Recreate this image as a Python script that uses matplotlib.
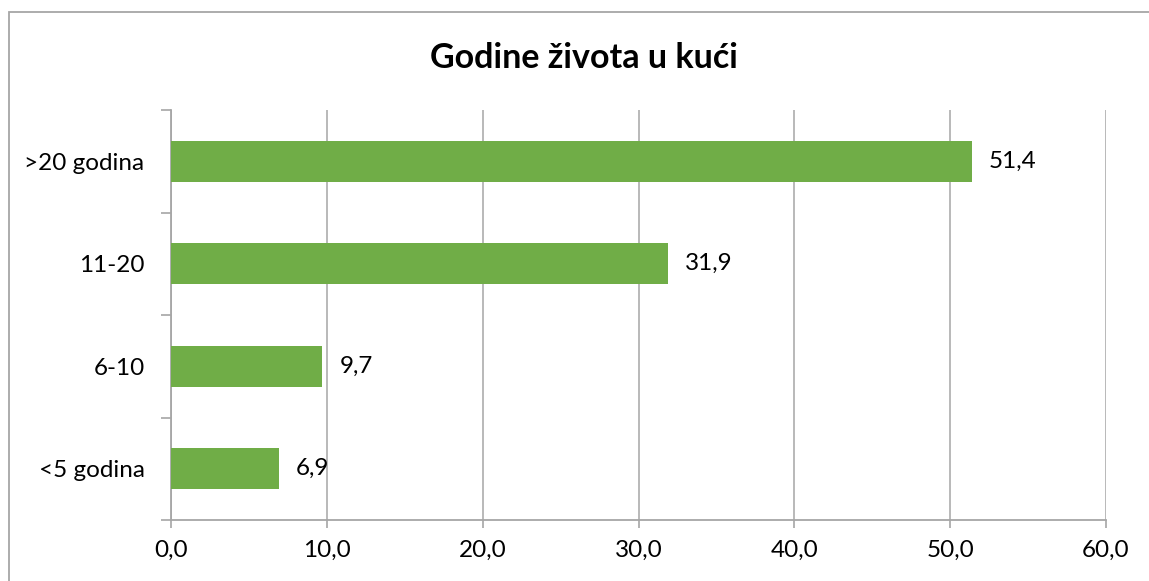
import matplotlib
matplotlib.use("Agg")
import matplotlib.pyplot as plt
from matplotlib.patches import Rectangle

categories = ["<5 godina", "6-10", "11-20", ">20 godina"]
values = [6.9, 9.7, 31.9, 51.4]
xticks = [0, 10, 20, 30, 40, 50, 60]
xtick_labels = ["0,0", "10,0", "20,0", "30,0", "40,0", "50,0", "60,0"]
title = "Godine života u kući"

plt.rcParams['font.family'] = ['Lato', 'DejaVu Sans']

W, H = 1149, 581
fig = plt.figure(figsize=(W / 100, H / 100), dpi=100)
fig.patch.set_facecolor("white")

# outer chart border
fig.patches.append(Rectangle((8.5 / W, -0.1), 1.2, (H - 12.5) / H + 0.1,
                             transform=fig.transFigure, fill=False,
                             edgecolor="#a6a6a6", linewidth=1.3))

ax = fig.add_axes([171 / W, 1 - 520 / H, (1106 - 171) / W, (520 - 110) / H])
y = range(len(categories))
ax.barh(y, values, height=0.4, color="#70AD47", zorder=3)
ax.set_xlim(0, 60)
ax.set_ylim(-0.5, len(categories) - 0.5)

fs = 17.5
ax.set_xticks(xticks)
ax.set_xticklabels(xtick_labels, fontsize=fs, color="black")
ax.set_yticks(list(y))
ax.set_yticklabels(categories, fontsize=fs, color="black")
ax.tick_params(axis="y", length=0, pad=19)
ax.tick_params(axis="x", length=6, width=1.2, color="#a6a6a6", pad=8)

# minor ticks on y between categories
ax.set_yticks([i - 0.5 for i in range(len(categories) + 1)], minor=True)
ax.tick_params(axis="y", which="minor", length=7, width=1.2, color="#a6a6a6")

ax.grid(axis="x", color="#b3b3b3", linewidth=1.3, zorder=0)
for s in ["top", "right"]:
    ax.spines[s].set_visible(False)
for s in ["left", "bottom"]:
    ax.spines[s].set_color("#a6a6a6")
    ax.spines[s].set_linewidth(1.3)

for yi, v in zip(y, values):
    ax.text(v + 1.1, yi, f"{v:.1f}".replace(".", ","), va="center", ha="left",
            fontsize=fs, color="black", zorder=4)

fig.text(584 / W, 1 - 58 / H, title, ha="center", va="center",
         fontsize=24.5, fontweight="bold", color="black")

fig.savefig("out.png", dpi=100, facecolor="white")
